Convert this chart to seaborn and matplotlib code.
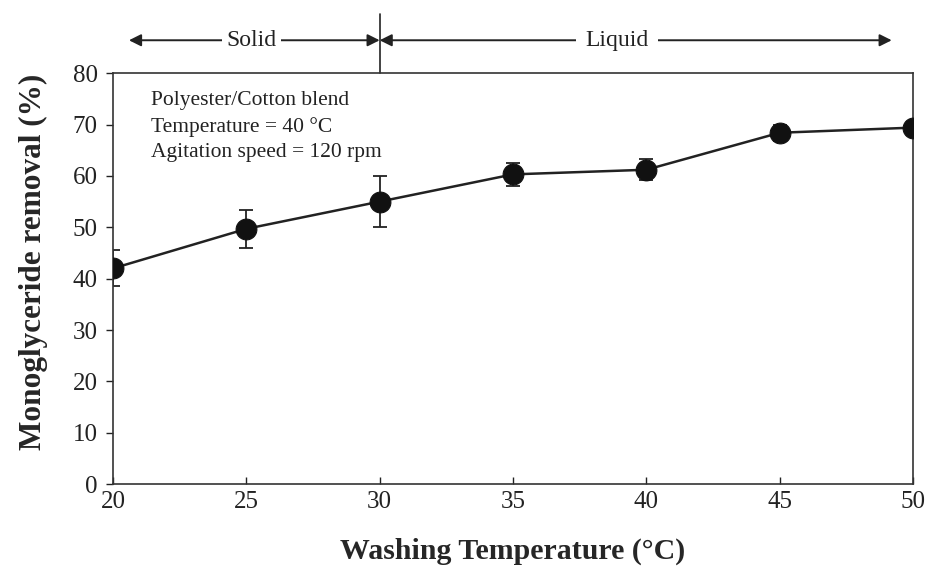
import matplotlib
matplotlib.use("Agg")
import matplotlib.pyplot as plt
import seaborn as sns
import pandas as pd
import numpy as np
from matplotlib.transforms import blended_transform_factory

temperature = [20, 25, 30, 35, 40, 45, 50]
removal = [42.0, 49.7, 55.0, 60.3, 61.2, 68.4, 69.4]
error = [3.5, 3.7, 4.9, 2.3, 2.0, 1.6, 1.0]
x_ticks = [20, 25, 30, 35, 40, 45, 50]
y_ticks = [0, 10, 20, 30, 40, 50, 60, 70, 80]
info_lines = ["Polyester/Cotton blend", "Temperature = 40 \u00b0C", "Agitation speed = 120 rpm"]

sns.set_theme(style="white")
plt.rcParams['font.family'] = ['Liberation Serif', 'DejaVu Serif']

df = pd.DataFrame({"T": temperature, "R": removal, "E": error})

fig = plt.figure(figsize=(9.26, 5.67), dpi=100)
ax = fig.add_axes([0.122, 0.146, 0.864, 0.725])

ax.errorbar(df["T"], df["R"], yerr=df["E"], fmt="none", ecolor="#222222",
            elinewidth=1.3, capsize=5, capthick=1.3, zorder=2)
sns.lineplot(data=df, x="T", y="R", ax=ax, color="#222222", linewidth=1.8,
             marker="o", markersize=15, markerfacecolor="#111111",
             markeredgecolor="#111111", zorder=3)

ax.set_xlim(20, 50)
ax.set_ylim(0, 80)
ax.set_xticks(x_ticks)
ax.set_yticks(y_ticks)
ax.tick_params(axis="both", labelsize=18, colors="#222222")
ax.tick_params(axis="x", direction="in", length=5, width=1, pad=5)
ax.tick_params(axis="y", direction="out", length=5, width=1, left=True, pad=6)
ax.tick_params(axis="x", bottom=True)
for s in ax.spines.values():
    s.set_color("#333333")
    s.set_linewidth(1.2)

ax.set_xlabel("Washing Temperature (\u00b0C)", fontsize=21.5, fontweight="bold", labelpad=18)
ax.set_ylabel("Monoglyceride removal (%)", fontsize=22.5, fontweight="bold", labelpad=18, y=0.54)

for i, line in enumerate(info_lines):
    ax.text(0.047, 0.933 - i * 0.063, line, transform=ax.transAxes, fontsize=15.5,
            va="center", ha="left", color="#222222")

trans = blended_transform_factory(ax.transData, ax.transAxes)
ya = 1.08
ax.plot([30, 30], [1.0, 1.145], transform=trans, color="#222222", lw=1.2, clip_on=False)
arrowprops = dict(arrowstyle="<|-|>", color="#222222", lw=1.4, mutation_scale=18,
                  shrinkA=0, shrinkB=0)
ax.annotate("", xy=(20.6, ya), xytext=(30, ya), xycoords=trans, textcoords=trans,
            arrowprops=arrowprops, annotation_clip=False)
ax.annotate("", xy=(30, ya), xytext=(49.2, ya), xycoords=trans, textcoords=trans,
            arrowprops=arrowprops, annotation_clip=False)
ax.text(25.2, ya, "Solid", transform=trans, fontsize=17, ha="center", va="center",
        color="#222222", bbox=dict(facecolor="white", edgecolor="none", pad=3))
ax.text(38.9, ya, "Liquid", transform=trans, fontsize=17, ha="center", va="center",
        color="#222222", bbox=dict(facecolor="white", edgecolor="none", pad=7))

fig.savefig("out.png", dpi=100)
